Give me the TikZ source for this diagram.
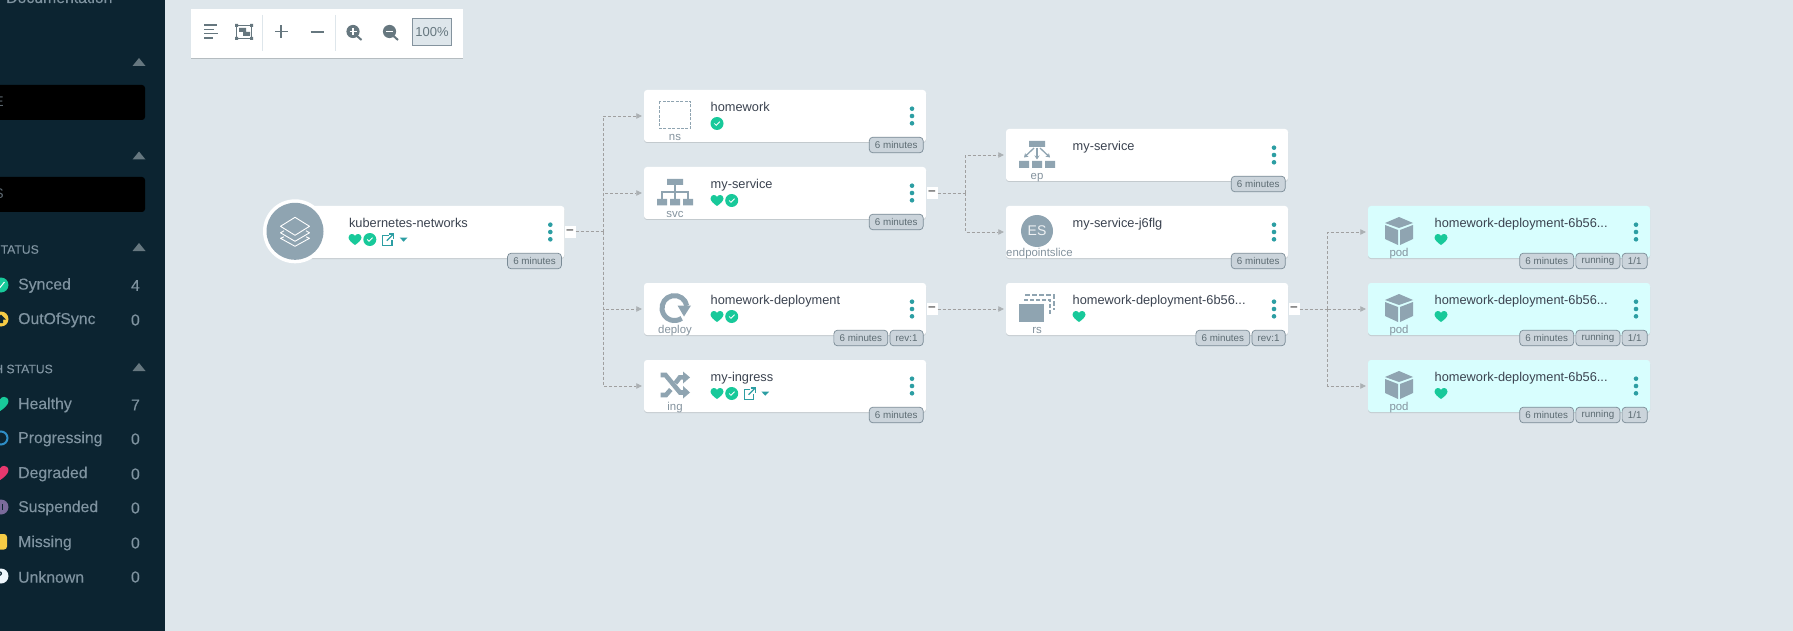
\documentclass[tikz,border=0pt]{standalone}
\usepackage{fontspec}
\setmainfont{Liberation Sans}
\newfontfamily\sidefont[FakeBold=.3]{Liberation Sans}
\usepackage{xcolor}
\usepackage{tikz}
\usetikzlibrary{arrows.meta,positioning,shadows}
\definecolor{argobg}{HTML}{DEE6EB}
\definecolor{argoside}{HTML}{0C2431}
\definecolor{argoink}{HTML}{3B4350}
\definecolor{argogray}{HTML}{8FA4B1}
\definecolor{argokind}{HTML}{84939E}
\definecolor{argotool}{HTML}{66777F}
\definecolor{argogreen}{HTML}{18C99A}
\definecolor{argoteal}{HTML}{2C9EA3}
\definecolor{argopod}{HTML}{D8FEFE}
\definecolor{argobadge}{HTML}{CBD4DB}
\definecolor{argoline}{HTML}{A0A0A0}
\definecolor{argohead}{HTML}{ABB0B3}
\definecolor{argoside2}{HTML}{7F93A0}
\definecolor{argoyellow}{HTML}{F6CB45}
\definecolor{argoblue}{HTML}{2F8FC8}
\definecolor{argopink}{HTML}{E8386E}
\definecolor{argopurple}{HTML}{7A6A9A}
\tikzset{
  card/.style={rectangle,rounded corners=3pt,minimum width=282pt,minimum height=52pt,inner sep=0pt,
    drop shadow={shadow xshift=0pt,shadow yshift=-1pt,opacity=.12,fill=black}},
  kindlabel/.style={font=\fontsize{11.4}{13}\selectfont,text=argokind,inner sep=0pt,anchor=base},
  titlelabel/.style={font=\fontsize{12.8}{15}\selectfont,text=argoink,inner sep=0pt,anchor=base west},
  badge/.style={draw=argogray!85!black,fill=argobadge,rounded corners=3.5pt,line width=.7pt,inner xsep=5.7pt,inner ysep=0pt,
    minimum height=15.5pt,font=\fontsize{9.8}{11}\selectfont,text=argotool!90!black},
  toggle/.style={fill=white,minimum width=11pt,minimum height=12pt,inner sep=0pt,font=\fontsize{12}{12}\selectfont,text=black},
  link/.style={draw=argoline,line width=.6pt,dash pattern=on 3pt off 2pt},
  linkhead/.style={link,-{Triangle[length=5.5pt,width=5.5pt,color=argohead]},shorten >=2pt},
  sidelabel/.style={font=\sidefont\fontsize{15.8}{18}\selectfont,text=argoside2,inner sep=0pt,anchor=west},
  sidecount/.style={font=\sidefont\fontsize{15.8}{18}\selectfont,text=argoside2,inner sep=0pt,anchor=east},
  sidehead/.style={font=\sidefont\fontsize{12.2}{15}\selectfont,text=argoside2,inner sep=0pt,anchor=east},
  heartmark/.pic={\fill[pic actions] (0,5.5) .. controls (-3,3.5) and (-6.5,.5) .. (-6.5,-2) .. controls (-6.5,-4.5) and (-4.5,-5.5) .. (-3.2,-5.5)
    .. controls (-1.8,-5.5) and (-.6,-4.8) .. (0,-3.5) .. controls (.6,-4.8) and (1.8,-5.5) .. (3.2,-5.5)
    .. controls (4.5,-5.5) and (6.5,-4.5) .. (6.5,-2) .. controls (6.5,.5) and (3,3.5) .. (0,5.5) -- cycle;},
  checkmark/.pic={\fill[argogreen] (0,0) circle[radius=6.5pt];
    \draw[white,line width=.8pt] (-2.6,0) -- (-.8,1.8) -- (2.8,-1.8);},
  linkmark/.pic={\draw[argoteal,line width=1.3pt] (.5,-3.8) -- (-5.5,-3.8) -- (-5.5,6) -- (4,6) -- (4,.5);
    \draw[argoteal,line width=1.3pt] (-1.2,1.2) -- (5.4,-5.4);
    \draw[argoteal,line width=1.3pt] (1,-5.6) -- (5.6,-5.6) -- (5.6,-1);},
  caretmark/.pic={\fill[argoteal] (-3.9,-1.9) -- (3.9,-1.9) -- (0,2.2) -- cycle;},
  kebab/.pic={\fill[argoteal] (0,-7.3) circle[radius=2.3pt] (0,0) circle[radius=2.3pt] (0,7.3) circle[radius=2.3pt];},
  nsicon/.pic={\draw[argogray,line width=1pt,dash pattern=on 3pt off 1.4pt] (-15.5,-13.5) rectangle (15.5,13.5);},
  svcicon/.pic={\fill[argogray] (-8,-14) rectangle (8,-8) (-18,6) rectangle (-8,12.5) (-5,6) rectangle (5,12.5) (8,6) rectangle (18,12.5);
    \draw[argogray,line width=1.1pt] (0,-8) -- (0,6) (-13,6) -- (-13,-1) -- (13,-1) -- (13,6);},
  epicon/.pic={\fill[argogray] (-8,-14) rectangle (8,-8) (-18,6) rectangle (-8,13) (-5,6) rectangle (5,13) (8,6) rectangle (18,13);
    \draw[argogray,line width=1.3pt,-{Stealth[length=4pt,width=5pt]}] (0,-7) -- (0,4.5);
    \draw[argogray,line width=1.3pt,-{Stealth[length=4pt,width=5pt]}] (-3,-7) -- (-13,2.5);
    \draw[argogray,line width=1.3pt,-{Stealth[length=4pt,width=5pt]}] (3,-7) -- (13,2.5);},
  rsicon/.pic={\fill[argogray] (-18,-5) rectangle (7,13);
    \draw[argogray,line width=1.2pt,dash pattern=on 4pt off 2pt] (-13,-9) -- (13,-9) -- (13,6);
    \draw[argogray,line width=1.2pt,dash pattern=on 5pt off 2pt] (-12,-14) -- (17,-14) -- (17,1);},
  podicon/.pic={\fill[argogray] (-14,-8) -- (0,-14) -- (14,-8) -- (0,-3) -- cycle
    (-14,-6) -- (-1,-1) -- (-1,14) -- (-14,8) -- cycle (14,-6) -- (1,-1) -- (1,14) -- (14,8) -- cycle;},
  deployicon/.pic={\draw[argogray,line width=5pt] (11.8,-2.1) arc[start angle=10,end angle=305,radius=12.5pt];
    \fill[argogray] (2.5,-2.5) -- (16,-2.5) -- (9,8.5) -- cycle;},
  ingicon/.pic={\draw[argogray,line width=4.6pt] (-14.5,-10) -- (-9.5,-10) -- (5,7.5) -- (9,7.5);
    \fill[argogray] (8,1) -- (15,7.5) -- (8,13.5) -- cycle;
    \draw[argogray,line width=4.6pt] (-14.5,10) -- (-9,10) -- (-4.2,4.5);
    \draw[argogray,line width=4.6pt] (.5,-2) -- (4.8,-7.6) -- (9,-7.6);
    \fill[argogray] (8,-13.5) -- (15,-7.6) -- (8,-1.5) -- cycle;},
  layersicon/.pic={\draw[white,line width=.9pt,line join=round] (-14.5,-5) -- (0,-14) -- (14.5,-5) -- (0,4) -- cycle;
    \draw[white,line width=.9pt,line join=round] (-11,-.5) -- (-14.5,1.5) -- (0,10) -- (14.5,1.5) -- (11,-.5);
    \draw[white,line width=.9pt,line join=round] (-11,5.5) -- (-14.5,7) -- (0,15) -- (14.5,7) -- (11,5.5);},
}
% card: fill, name, x, y, kind, title
\newcommand{\rescard}[6][white]{%
  \node[card,fill=#1] (#2) at (#3,#4) {};
  \node[kindlabel] (#2-kind) at ([shift={(-110,24.5)}]#2.center) {#5};
  \node[titlelabel] (#2-title) at ([shift={(-74.5,-4.3)}]#2.center) {#6};
  \pic at ([shift={(127,0)}]#2.center) {kebab};
}
\begin{document}
\begin{tikzpicture}[x=1pt,y=-1pt,>=Stealth]
    \useasboundingbox (0,0) rectangle (1793,631);
    \fill[argobg] (0,0) rectangle (1793,631);

    % side bar
    \fill[argoside] (0,0) rectangle (165,631);
    \node[sidelabel,anchor=base west] (docs) at (6,3) {Documentation};
    \fill[black,rounded corners=3pt] (-5,85) rectangle (145,120);
    \fill[black,rounded corners=3pt] (-5,177) rectangle (145,212);
    \node[sidehead,text=argokind!70!black,font=\fontsize{14}{16}\selectfont] (filtera) at (4,102) {E};
    \node[sidehead,text=argokind!70!black,font=\fontsize{14}{16}\selectfont] (filterb) at (4,194) {S};
    \fill[argotool] (132.5,66) -- (139,58) -- (145.5,66) -- cycle;
    \fill[argotool] (132.5,159.5) -- (139,151.5) -- (145.5,159.5) -- cycle;
    \fill[argotool] (132.5,251) -- (139,243) -- (145.5,251) -- cycle;
    \fill[argotool] (132.5,371) -- (139,363) -- (145.5,371) -- cycle;
    \node[sidehead] (synchead) at (39,249.5) {TATUS};
    \node[sidehead] (healthhead) at (53,369) {H STATUS};

    \fill[argogreen] (1,285) circle[radius=7.5pt];
    \draw[white,line width=1pt] (-2,285) -- (0,287.5) -- (4.5,282);
    \node[sidelabel] (synced) at (18,285.5) {Synced};
    \node[sidecount] (synced-n) at (140,285.5) {4};
    \fill[argoyellow] (1,319) circle[radius=7.5pt];
    \fill[argoside] (-4,319.5) -- (1,314.5) -- (6,319.5) -- (3,319.5) -- (3,323) -- (-1,323) -- (-1,319.5) -- cycle;
    \node[sidelabel] (outofsync) at (18,320) {OutOfSync};
    \node[sidecount] (outofsync-n) at (140,320) {0};

    \pic[argogreen,scale=1.3] at (0,404) {heartmark};
    \node[sidelabel] (healthy) at (18,405) {Healthy};
    \node[sidecount] (healthy-n) at (140,405) {7};
    \draw[argoblue,line width=2pt] (1,438) circle[radius=6.5pt];
    \node[sidelabel] (progressing) at (18,439) {Progressing};
    \node[sidecount] (progressing-n) at (140,439) {0};
    \pic[argopink,scale=1.3] at (0,473) {heartmark};
    \node[sidelabel] (degraded) at (18,474) {Degraded};
    \node[sidecount] (degraded-n) at (140,474) {0};
    \fill[argopurple] (1,507) circle[radius=7.5pt];
    \draw[argoside,line width=1pt] (2.5,504) -- (2.5,510);
    \node[sidelabel] (suspended) at (18,508) {Suspended};
    \node[sidecount] (suspended-n) at (140,508) {0};
    \fill[argoyellow,rounded corners=3pt] (-6,534) rectangle (7,549.5);
    \node[sidelabel] (missing) at (18,543) {Missing};
    \node[sidecount] (missing-n) at (140,543) {0};
    \fill[white!92!argoblue] (1,576) circle[radius=7.5pt];
    \node[inner sep=0pt,text=argoside,font=\fontsize{11}{12}\bfseries] (unknown-mark) at (-.5,576) {?};
    \node[sidelabel] (unknown) at (18,577) {Unknown};
    \node[sidecount] (unknown-n) at (140,577) {0};

    % zoom bar
    \node[rectangle,fill=white,minimum width=272pt,minimum height=49pt,inner sep=0pt,
      drop shadow={shadow xshift=0pt,shadow yshift=-1.2pt,opacity=.18,fill=black}] (toolbar) at (327,33.5) {};
    \draw[argotool,line width=1.2pt] (204,25) -- (217,25) (204,29.2) -- (214,29.2) (204,33.5) -- (218,33.5) (204,38) -- (213,38);
    \draw[argotool,line width=1.9pt] (236.5,25.5) rectangle (251.5,38.5);
    \fill[argotool] (235,24) rectangle (238,27) (250,24) rectangle (253,27) (235,37) rectangle (238,40) (250,37) rectangle (253,40);
    \fill[argotool] (239,28) rectangle (246,32) (243,32) rectangle (250,36);
    \draw[argobg,line width=.8pt] (262.5,15) -- (262.5,51) (335.5,15) -- (335.5,51);
    \draw[argotool,line width=1.6pt] (275,31.5) -- (287.5,31.5) (281.2,25.2) -- (281.2,37.8);
    \draw[argotool,line width=1.6pt] (310.5,32) -- (323.5,32);
    \fill[argotool] (353,31.5) circle[radius=6.6pt];
    \draw[argotool,line width=2pt] (357,36) -- (361.5,40);
    \draw[white,line width=1.1pt] (349.5,31.5) -- (356.5,31.5) (353,28) -- (353,35);
    \fill[argotool] (389.5,31.5) circle[radius=6.6pt];
    \draw[argotool,line width=2pt] (393.5,36) -- (398,40);
    \draw[white,line width=1.1pt] (386,31.5) -- (393,31.5);
    \node[draw=argokind,fill=argobg,line width=.7pt,minimum width=39pt,minimum height=26.5pt,inner sep=0pt,
      font=\fontsize{13}{15}\selectfont,text=argotool] (zoomlevel) at (432,32) {100\%};

    % cards
    \node[card,fill=white] (root) at (423.3,232) {};
    \fill[white] (295,231.3) circle[radius=32pt];
    \fill[argogray] (295,231.3) circle[radius=28.5pt];
    \pic at (295,231.3) {layersicon};
    \node[titlelabel] (root-title) at ([shift={(-74.5,-4.7)}]root.center) {kubernetes-networks};
    \pic at ([shift={(127,0)}]root.center) {kebab};
    \pic[argogreen] at ([shift={(-68.3,7.5)}]root.center) {heartmark};
    \pic at ([shift={(-53.5,7.5)}]root.center) {checkmark};
    \pic at ([shift={(-35.3,7.5)}]root.center) {linkmark};
    \pic at ([shift={(-19.7,7.5)}]root.center) {caretmark};

    \rescard{ns}{785}{116}{ns}{homework}
    \pic at ([shift={(-110,-1)}]ns.center) {nsicon};
    \pic at ([shift={(-68,7.5)}]ns.center) {checkmark};

    \rescard{svc}{785}{193}{svc}{my-service}
    \pic at ([shift={(-110,0)}]svc.center) {svcicon};
    \pic[argogreen] at ([shift={(-68,7.5)}]svc.center) {heartmark};
    \pic at ([shift={(-53.3,7.5)}]svc.center) {checkmark};

    \rescard{deploy}{785}{309}{deploy}{homework-deployment}
    \pic at ([shift={(-110,-1)}]deploy.center) {deployicon};
    \pic[argogreen] at ([shift={(-68,7.5)}]deploy.center) {heartmark};
    \pic at ([shift={(-53.3,7.5)}]deploy.center) {checkmark};

    \rescard{ing}{785}{386}{ing}{my-ingress}
    \pic at ([shift={(-110,-1)}]ing.center) {ingicon};
    \pic[argogreen] at ([shift={(-68,7.5)}]ing.center) {heartmark};
    \pic at ([shift={(-53.3,7.5)}]ing.center) {checkmark};
    \pic at ([shift={(-35.3,7.5)}]ing.center) {linkmark};
    \pic at ([shift={(-19.7,7.5)}]ing.center) {caretmark};

    \rescard{ep}{1147}{155}{ep}{my-service}
    \pic at ([shift={(-110,0)}]ep.center) {epicon};

    \rescard{es}{1147}{232}{\hspace*{5pt}endpointslice}{my-service-j6flg}
    \node[circle,fill=argogray,minimum size=32pt,inner sep=0pt,text=white!85!argogray,font=\fontsize{14}{16}\selectfont]
      (es-mark) at ([shift={(-110,-1)}]es.center) {ES};

    \rescard{rs}{1147}{309}{rs}{homework-deployment-6b56...}
    \pic at ([shift={(-110,0)}]rs.center) {rsicon};
    \pic[argogreen] at ([shift={(-68,7.5)}]rs.center) {heartmark};

    \rescard[argopod]{poda}{1509}{232}{pod}{homework-deployment-6b56...}
    \pic at ([shift={(-110,-1)}]poda.center) {podicon};
    \pic[argogreen] at ([shift={(-68,7.5)}]poda.center) {heartmark};
    \rescard[argopod]{podb}{1509}{309}{pod}{homework-deployment-6b56...}
    \pic at ([shift={(-110,-1)}]podb.center) {podicon};
    \pic[argogreen] at ([shift={(-68,7.5)}]podb.center) {heartmark};
    \rescard[argopod]{podc}{1509}{386}{pod}{homework-deployment-6b56...}
    \pic at ([shift={(-110,-1)}]podc.center) {podicon};
    \pic[argogreen] at ([shift={(-68,7.5)}]podc.center) {heartmark};

    % badges
    \node[badge,anchor=east] (root-age) at ([shift={(138.5,29)}]root.center) {6 minutes};
    \node[badge,anchor=east] (ns-age) at ([shift={(138.5,29)}]ns.center) {6 minutes};
    \node[badge,anchor=east] (svc-age) at ([shift={(138.5,29)}]svc.center) {6 minutes};
    \node[badge,anchor=east] (deploy-rev) at ([shift={(138.5,29)}]deploy.center) {rev:1};
    \node[badge,left=1.5pt of deploy-rev] (deploy-age) {6 minutes};
    \node[badge,anchor=east] (ing-age) at ([shift={(138.5,29)}]ing.center) {6 minutes};
    \node[badge,anchor=east] (ep-age) at ([shift={(138.5,29)}]ep.center) {6 minutes};
    \node[badge,anchor=east] (es-age) at ([shift={(138.5,29)}]es.center) {6 minutes};
    \node[badge,anchor=east] (rs-rev) at ([shift={(138.5,29)}]rs.center) {rev:1};
    \node[badge,left=1.5pt of rs-rev] (rs-age) {6 minutes};
    \node[badge,anchor=east] (poda-ready) at ([shift={(138.5,29)}]poda.center) {1/1};
    \node[badge,left=1.5pt of poda-ready] (poda-state) {running};
    \node[badge,left=1.5pt of poda-state] (poda-age) {6 minutes};
    \node[badge,anchor=east] (podb-ready) at ([shift={(138.5,29)}]podb.center) {1/1};
    \node[badge,left=1.5pt of podb-ready] (podb-state) {running};
    \node[badge,left=1.5pt of podb-state] (podb-age) {6 minutes};
    \node[badge,anchor=east] (podc-ready) at ([shift={(138.5,29)}]podc.center) {1/1};
    \node[badge,left=1.5pt of podc-ready] (podc-state) {running};
    \node[badge,left=1.5pt of podc-state] (podc-age) {6 minutes};

    % links
    \node[toggle] (root-minus) at (570,231.5) {–};
    \node[toggle] (svc-minus) at (932,193) {–};
    \node[toggle] (deploy-minus) at (932,309) {–};
    \node[toggle] (rs-minus) at (1294,309) {–};
    \coordinate (rootbus) at (603.5,231.5);
    \coordinate (svcbus) at (965.5,193);
    \coordinate (rsbus) at (1327.5,309);
    \draw[link] (root-minus) -- (rootbus);
    \draw[linkhead] (rootbus) |- (ns.west);
    \draw[linkhead] (rootbus) |- (svc.west);
    \draw[linkhead] (rootbus) |- (deploy.west);
    \draw[linkhead] (rootbus) |- (ing.west);
    \draw[link] (svc-minus) -- (svcbus);
    \draw[linkhead] (svcbus) |- (ep.west);
    \draw[linkhead] (svcbus) |- (es.west);
    \draw[linkhead] (deploy-minus) -- (rs.west);
    \draw[link] (rs-minus) -- (rsbus);
    \draw[linkhead] (rsbus) |- (poda.west);
    \draw[linkhead] (rsbus) -- (podb.west);
    \draw[linkhead] (rsbus) |- (podc.west);
  \end{tikzpicture}
\end{document}
